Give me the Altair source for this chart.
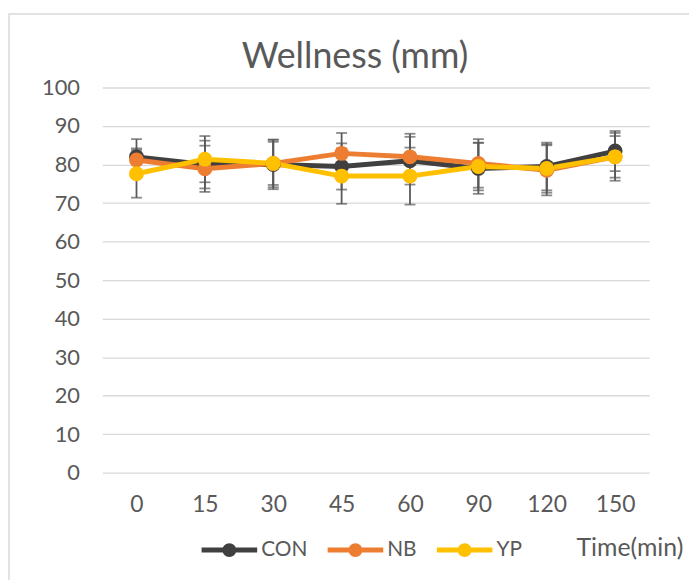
import altair as alt
import pandas as pd

times = [0, 15, 30, 45, 60, 90, 120, 150]
series = ["CON", "NB", "YP"]
colors = ["#404040", "#ED7D31", "#FFC000"]
con_mean = [82.0, 80.0, 80.0, 79.5, 81.0, 79.0, 79.5, 83.5]
nb_mean = [81.2, 78.9, 80.3, 82.9, 82.0, 80.3, 78.5, 82.0]
yp_mean = [77.6, 81.4, 80.3, 77.0, 77.0, 79.5, 79.0, 82.0]
con_sd = [4.6, 6.2, 6.4, 6.0, 6.2, 6.6, 6.2, 5.2]
nb_sd = [3.0, 6.0, 5.6, 5.3, 6.0, 6.3, 6.5, 5.4]
yp_sd = [6.2, 6.0, 6.2, 7.2, 7.4, 6.2, 6.3, 6.2]

rows = []
for name, means, sds in zip(series, [con_mean, nb_mean, yp_mean], [con_sd, nb_sd, yp_sd]):
    for t, m, s in zip(times, means, sds):
        rows.append({"time": t, "series": name, "value": m, "lo": m - s, "hi": m + s})
df = pd.DataFrame(rows)

FONT = "Lato"
TXT = "#595959"

x_enc = alt.X("time:O", scale=alt.Scale(type="point", padding=0.5),
              axis=alt.Axis(title="Time(min)", labelAngle=0, labelFontSize=23, labelColor=TXT,
                            labelFont=FONT, labelBaseline="middle", labelPadding=32,
                            ticks=False, domain=False, grid=False,
                            titleFont=FONT, titleFontSize=25, titleColor=TXT, titleFontWeight="normal",
                            titleX=531, titleY=75, titleAlign="center", titleBaseline="middle"))
y_scale = alt.Scale(domain=[0, 100], nice=False)
y_axis = alt.Axis(title=None, values=list(range(0, 101, 10)), labelFontSize=22, labelColor=TXT,
                  labelFont=FONT, labelPadding=23, ticks=False, domain=False,
                  gridColor="#D9D9D9", gridWidth=1.3)

legend_path = ("M-1,-0.09H1V0.09H-1Z "
               "M0,-0.25A0.25,0.25 0 1,1 0,0.25A0.25,0.25 0 1,1 0,-0.25Z")
legend = alt.Legend(orient="none", legendX=100, legendY=438, direction="horizontal", title=None,
                    symbolType=legend_path, symbolSize=3136, symbolStrokeWidth=0,
                    labelFontSize=21, labelColor=TXT, labelFont=FONT, columnPadding=20,
                    labelOffset=4, padding=0)
color_enc = alt.Color("series:N", scale=alt.Scale(domain=series, range=colors), legend=legend)

base = alt.Chart(df)

frame = alt.Chart(pd.DataFrame({"a": [0]})).mark_rect(
    filled=False, stroke="#D9D9D9", strokeWidth=1.5
).encode(x=alt.value(-94), x2=alt.value(800), y=alt.value(-74), y2=alt.value(700))

err_rule = base.mark_rule(color="#595959", strokeWidth=1.8).encode(
    x=x_enc, y=alt.Y("lo:Q", scale=y_scale, axis=y_axis), y2="hi:Q")
cap_lo = base.mark_tick(color="#595959", thickness=1.8, size=11, orient="horizontal").encode(
    x=x_enc, y=alt.Y("lo:Q", scale=y_scale, axis=y_axis))
cap_hi = base.mark_tick(color="#595959", thickness=1.8, size=11, orient="horizontal").encode(
    x=x_enc, y=alt.Y("hi:Q", scale=y_scale, axis=y_axis))

lines = base.mark_line(strokeWidth=5).encode(
    x=x_enc, y=alt.Y("value:Q", scale=y_scale, axis=y_axis), color=color_enc)
points = base.mark_point(filled=True, size=225, opacity=1).encode(
    x=x_enc, y=alt.Y("value:Q", scale=y_scale, axis=y_axis), color=color_enc)

chart = alt.layer(frame, err_rule, cap_lo, cap_hi, lines, points).properties(
    width=551, height=388,
    padding={"left": 95, "top": 78, "right": 40, "bottom": 106},
    autosize=alt.AutoSizeParams(type="none"),
    background="white",
    title=alt.TitleParams("Wellness (mm)", font=FONT, fontSize=36, color=TXT, fontWeight="normal",
                          anchor="middle", frame="group", dx=-21, dy=63, offset=0),
).configure_view(strokeWidth=0, stroke="transparent").configure_axis(domain=False, domainOpacity=0)

chart.save("out.html", embed_options={"renderer": "svg", "actions": False})
